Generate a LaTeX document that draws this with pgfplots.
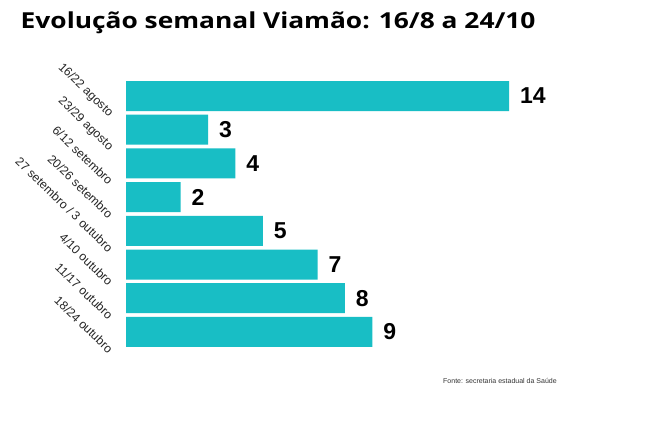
\documentclass[border=0pt]{standalone}
\usepackage{pgfplots}
\pgfplotsset{compat=1.18}
\usepackage{fontspec}
\setmainfont{Liberation Sans}
\newfontfamily\titlefont{Open Sans}
\definecolor{barteal}{RGB}{24,190,197}
\begin{document}
\begin{tikzpicture}
\fill[white] (0,0) rectangle (660bp,440bp);
\useasboundingbox (0,0) rectangle (660bp,440bp);
\node[anchor=base west, inner sep=0pt, xscale=1.197, font=\titlefont\bfseries\fontsize{22bp}{26bp}\selectfont] at (20.5bp,411.5bp) {Evolução semanal Viamão: 16/8 a 24/10};
\node[anchor=base west, inner sep=0pt, font=\fontsize{7bp}{8bp}\selectfont, text=black!80] at (443bp,56bp) {Fonte: secretaria estadual da Saúde};
\begin{axis}[
  at={(126bp,91.25bp)}, anchor=south west,
  scale only axis,
  width=437.8bp, height=269.6bp,
  xbar, bar width=30bp,
  xmin=0, xmax=16,
  ymin=-0.5, ymax=7.5,
  y dir=reverse,
  axis line style={draw=none},
  xtick=\empty,
  ytick={0,...,7},
  yticklabels={16/22 agosto,23/29 agosto,6/12 setembro,20/26 setembro,27 setembro / 3 outubro,4/10 outubro,11/17 outubro,18/24 outubro},
  major tick length=0pt,
  yticklabel style={xshift=-15bp, yshift=-19bp, rotate=-44, anchor=east, inner sep=0pt, font=\fontsize{12.2bp}{14bp}\selectfont, text=black!85},
  /pgf/number format/assume math mode=true,
  nodes near coords,
  nodes near coords style={anchor=west, xshift=7.5bp, font=\bfseries\fontsize{23bp}{26bp}\selectfont, text=black},
  point meta=x,
  clip=false,
]
\addplot[draw=none, fill=barteal] coordinates {(14,0) (3,1) (4,2) (2,3) (5,4) (7,5) (8,6) (9,7)};
\end{axis}
\end{tikzpicture}
\end{document}
